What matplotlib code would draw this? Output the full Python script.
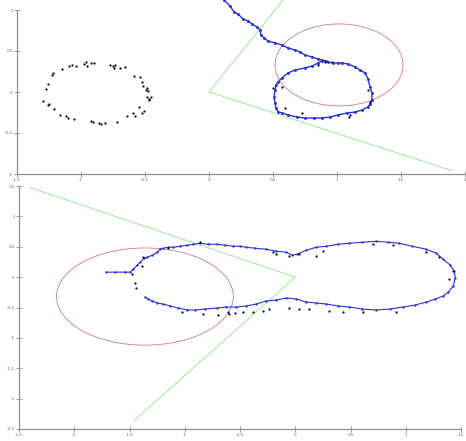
import matplotlib
matplotlib.use("Agg")
import matplotlib.pyplot as plt
from matplotlib.patches import Ellipse
from matplotlib.ticker import FuncFormatter

# ---------------- TOP PANEL DATA ----------------
top_xlim = (-1.5, 2.0)
top_ylim = (-1.0, 1.0)
top_xticks = [-1.5, -1.0, -0.5, 0.0, 0.5, 1.0, 1.5, 2.0]
top_yticks = [-1.0, -0.5, 0.0, 0.5, 1.0]

top_path_x = [0.117, 0.164, 0.195, 0.227, 0.266, 0.305, 0.336, 0.375, 0.398, 0.406,
              0.430, 0.461, 0.516, 0.570, 0.617, 0.672, 0.711, 0.750, 0.805, 0.852,
              0.883, 0.930, 0.969, 1.008, 1.039, 1.086, 1.141, 1.180, 1.219, 1.242,
              1.258, 1.273, 1.273, 1.258, 1.242, 1.195, 1.141, 1.078, 1.008, 0.945,
              0.883, 0.820, 0.750, 0.688, 0.617, 0.570, 0.539, 0.523, 0.516, 0.508,
              0.516, 0.523, 0.539, 0.570, 0.617, 0.672, 0.750, 0.805, 0.852, 0.883, 0.914]
top_path_y = [1.122, 1.049, 0.976, 0.951, 0.890, 0.866, 0.829, 0.793, 0.756, 0.695,
              0.659, 0.622, 0.598, 0.573, 0.537, 0.512, 0.488, 0.451, 0.427, 0.402,
              0.390, 0.366, 0.354, 0.354, 0.354, 0.341, 0.305, 0.268, 0.232, 0.159,
              0.061, -0.012, -0.098, -0.146, -0.183, -0.220, -0.244, -0.256, -0.280, -0.305,
              -0.317, -0.317, -0.317, -0.305, -0.280, -0.256, -0.244, -0.195, -0.134, -0.061,
              0.024, 0.085, 0.122, 0.171, 0.232, 0.268, 0.293, 0.317, 0.354, 0.378, 0.378]

top_dots_x = [-1.297, -1.273, -1.258, -1.250, -1.258, -1.227, -1.219, -1.211, -1.164, -1.148,
              -1.117, -1.102, -1.094, -1.070, -1.055, -1.039, -0.977, -0.961, -0.953, -0.922,
              -0.922, -0.906, -0.898, -0.859, -0.844, -0.813, -0.773, -0.750, -0.742, -0.734,
              -0.719, -0.695, -0.656, -0.641, -0.594, -0.586, -0.578, -0.547, -0.539, -0.523,
              -0.523, -0.516, -0.508, -0.492, -0.484, -0.484, -0.477, -0.469, -0.453, -0.469,
              0.500, 0.570, 0.852, 0.961, 1.242, 1.258, 1.102, 0.594, 0.727, 0.906, 1.094]
top_dots_y = [-0.110, 0.037, 0.098, -0.146, -0.159, 0.207, 0.232, -0.207, -0.280, 0.280,
              -0.293, -0.317, 0.317, 0.329, -0.329, 0.317, 0.341, 0.366, 0.317, 0.354,
              -0.354, -0.366, 0.354, -0.378, -0.390, -0.378, 0.329, 0.317, 0.293, 0.329,
              -0.366, 0.293, 0.305, -0.293, -0.256, 0.195, -0.293, -0.183, 0.183, 0.122,
              -0.256, 0.073, -0.232, 0.024, 0.049, -0.061, 0.012, -0.085, -0.061, -0.098,
              0.049, 0.061, 0.329, 0.366, 0.024, -0.122, -0.280, -0.195, -0.256, 0.366, -0.305]

top_circle_center = (1.016, 0.33)
top_circle_radius = 0.5

top_cone_x = [0.578, 0.0, 1.906]
top_cone_y = [1.12, 0.0, -0.963]

# ---------------- BOTTOM PANEL DATA ----------------
bot_xlim = (-2.5, 1.5)
bot_ylim = (-2.5, 1.5)
bot_xticks = [-2.5, -2.0, -1.5, -1.0, -0.5, 0.0, 0.5, 1.0, 1.5]
bot_yticks = [-2.5, -2.0, -1.5, -1.0, -0.5, 0.0, 0.5, 1.0, 1.5]

bot_path_x = [-1.710, -1.629, -1.538, -1.493, -1.466, -1.430, -1.403, -1.367, -1.339, -1.294,
              -1.249, -1.222, -1.195, -1.149, -1.104, -1.041, -0.977, -0.923, -0.860, -0.787,
              -0.706, -0.633, -0.561, -0.498, -0.443, -0.362, -0.262, -0.172, -0.081, -0.027,
              0.018, 0.100, 0.190, 0.281, 0.389, 0.489, 0.606, 0.733, 0.842, 0.941,
              1.059, 1.186, 1.276, 1.339, 1.403, 1.439, 1.448, 1.430, 1.385, 1.339,
              1.267, 1.186, 1.086, 0.977, 0.860, 0.733, 0.606, 0.489, 0.389, 0.281,
              0.190, 0.100, 0.009, -0.081, -0.172, -0.262, -0.353, -0.443, -0.534, -0.624,
              -0.706, -0.814, -0.905, -0.977, -1.059, -1.131, -1.195, -1.249, -1.294, -1.330, -1.357]
bot_path_y = [0.082, 0.082, 0.082, 0.082, 0.131, 0.197, 0.246, 0.311, 0.328, 0.361,
              0.410, 0.459, 0.475, 0.492, 0.492, 0.508, 0.525, 0.541, 0.557, 0.541,
              0.541, 0.525, 0.508, 0.508, 0.492, 0.475, 0.459, 0.426, 0.410, 0.361,
              0.377, 0.443, 0.492, 0.508, 0.541, 0.557, 0.574, 0.590, 0.574, 0.557,
              0.508, 0.459, 0.393, 0.295, 0.197, 0.098, -0.016, -0.148, -0.246, -0.311,
              -0.361, -0.410, -0.459, -0.492, -0.525, -0.541, -0.525, -0.492, -0.475, -0.443,
              -0.426, -0.410, -0.361, -0.344, -0.377, -0.393, -0.443, -0.475, -0.492, -0.492,
              -0.508, -0.525, -0.541, -0.541, -0.508, -0.475, -0.443, -0.426, -0.393, -0.361, -0.328]

bot_dots_x = [-1.475, -1.448, -1.439, -1.023, -0.833, -0.697, -0.606, -0.543, -0.597, -0.471,
              -0.380, -0.290, -0.235, -0.054, 0.036, 0.127, 0.308, 0.434, 0.615, 0.914,
              -0.199, -0.054, 0.036, 0.190, 0.253, -0.172, 0.706, 0.887, 1.186, 1.303,
              1.430, 1.394, -1.376, -1.385, -0.860, -1.149]
bot_dots_y = [0.049, -0.098, -0.180, -0.574, -0.607, -0.623, -0.574, -0.590, -0.607, -0.574,
              -0.574, -0.557, -0.525, -0.508, -0.525, -0.525, -0.557, -0.574, -0.574, -0.574,
              0.410, 0.344, 0.377, 0.344, 0.426, 0.377, 0.541, 0.525, 0.410, 0.328,
              0.098, -0.033, 0.328, 0.180, 0.574, 0.475]

bot_circle_center = (-1.36, -0.32)
bot_circle_radius = 0.8

bot_cone_x = [-2.40, 0.0, -1.457]
bot_cone_y = [1.475, 0.0, -2.36]

# ---------------- STYLE ----------------
BLUE = "#2a34d4"
RED = "#d47878"
GREEN = "#a6e8a6"
AXIS = "#8f8f8f"

comma = FuncFormatter(lambda v, p: ("%g" % v).replace(".", ","))

fig = plt.figure(figsize=(4.66, 4.41), dpi=100)
fig.patch.set_facecolor("white")

ax1 = fig.add_axes([17 / 466, (441 - 174) / 441, 448 / 466, 164 / 441])
ax2 = fig.add_axes([19 / 466, (441 - 429) / 441, 442 / 466, 243 / 441])


def style(ax, xlim, ylim, xt, yt):
    ax.set_xlim(*xlim)
    ax.set_ylim(*ylim)
    ax.set_xticks(xt)
    ax.set_yticks(yt)
    ax.xaxis.set_major_formatter(comma)
    ax.yaxis.set_major_formatter(comma)
    for s in ("top", "right"):
        ax.spines[s].set_visible(False)
    for s in ("left", "bottom"):
        ax.spines[s].set_color(AXIS)
        ax.spines[s].set_linewidth(0.9)
    ax.tick_params(direction="inout", length=4, width=0.6, color=AXIS,
                   labelsize=3.0, labelcolor="#666666", pad=1)
    ax.patch.set_alpha(0)


style(ax1, top_xlim, top_ylim, top_xticks, top_yticks)
style(ax2, bot_xlim, bot_ylim, bot_xticks, bot_yticks)

# top panel
ax1.plot(top_cone_x, top_cone_y, color=GREEN, lw=0.8, clip_on=False)
ax1.add_patch(Ellipse(top_circle_center, 2 * top_circle_radius, 2 * top_circle_radius,
                      fill=False, edgecolor=RED, lw=0.6))
ax1.plot(top_path_x, top_path_y, color=BLUE, lw=1.0, marker=".", ms=2.2,
         clip_on=False)
ax1.plot(top_dots_x, top_dots_y, ls="none", marker=".", ms=1.2, color="black")

# bottom panel
ax2.plot(bot_cone_x, bot_cone_y, color=GREEN, lw=0.8, clip_on=False)
ax2.add_patch(Ellipse(bot_circle_center, 2 * bot_circle_radius, 2 * bot_circle_radius,
                      fill=False, edgecolor=RED, lw=0.6))
ax2.plot(bot_path_x, bot_path_y, color=BLUE, lw=0.8, marker=".", ms=1.4)
ax2.plot(bot_dots_x, bot_dots_y, ls="none", marker=".", ms=1.2, color="black")

fig.savefig("out.png", dpi=100, facecolor="white")
